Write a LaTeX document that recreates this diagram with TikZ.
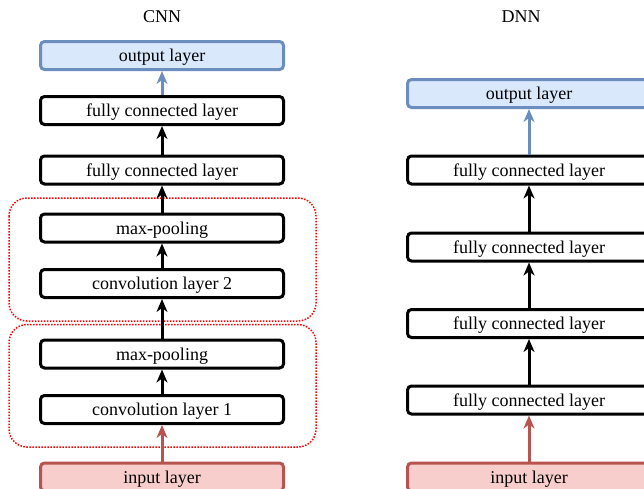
\documentclass[tikz,border=0pt]{standalone}
\usepackage{fontspec}
\setmainfont{Liberation Serif}
\usetikzlibrary{arrows.meta}
\definecolor{bluestroke}{HTML}{6C8EBF}
\definecolor{bluefill}{HTML}{DAE8FC}
\definecolor{redstroke}{HTML}{B85450}
\definecolor{redfill}{HTML}{F8CECC}
\definecolor{groupred}{HTML}{FF0000}
\begin{document}
\begin{tikzpicture}[x=1pt,y=-1pt,
  layer/.style={draw=black, line width=3pt, rounded corners=4pt, minimum width=243pt, minimum height=28pt, inner sep=0pt, text height=14pt, text depth=2pt, font=\fontsize{18}{21}\selectfont, fill=white},
  outlayer/.style={layer, draw=bluestroke, fill=bluefill},
  inlayer/.style={layer, draw=redstroke, fill=redfill},
  group/.style={draw=groupred, line width=1.5pt, dash pattern=on 1.5pt off 1.5pt, rounded corners=18pt},
  flow/.style={-{Stealth[length=13pt,width=11pt,inset=4pt]}, line width=3pt},
  title/.style={font=\fontsize{18}{21}\selectfont, inner sep=0pt}
]
\useasboundingbox (0,0) rectangle (644,488);
\fill[white] (0,0) rectangle (644,488);

% groups
\draw[group] (9,198) rectangle (316,321);
\draw[group] (9,324.5) rectangle (316,447);

% titles
\node[title] (cnn) at (162,17) {CNN};
\node[title] (dnn) at (521,17) {DNN};

% CNN column
\node[outlayer] (lout) at (162,55.5) {output layer};
\node[layer] (lfc1) at (162,110.5) {fully connected layer};
\node[layer] (lfc2) at (162,170) {fully connected layer};
\node[layer] (lmp2) at (162,228) {max-pooling};
\node[layer] (lcv2) at (162,283.5) {convolution layer 2};
\node[layer] (lmp1) at (162,354) {max-pooling};
\node[layer] (lcv1) at (162,409.5) {convolution layer 1};
\node[inlayer] (lin) at (162,477) {input layer};

\draw[flow, redstroke] (lin) -- (lcv1);
\draw[flow] (lcv1) -- (lmp1);
\draw[flow] (lmp1) -- (lcv2);
\draw[flow] (lcv2) -- (lmp2);
\draw[flow] (lmp2) -- (lfc2);
\draw[flow] (lfc2) -- (lfc1);
\draw[flow, bluestroke] (lfc1) -- (lout);

% DNN column
\node[outlayer] (rout) at (529,93.5) {output layer};
\node[layer] (rfc1) at (529,170) {fully connected layer};
\node[layer] (rfc2) at (529,247) {fully connected layer};
\node[layer] (rfc3) at (529,323.5) {fully connected layer};
\node[layer] (rfc4) at (529,400) {fully connected layer};
\node[inlayer] (rin) at (529,477) {input layer};

\draw[flow, redstroke] (rin) -- (rfc4);
\draw[flow] (rfc4) -- (rfc3);
\draw[flow] (rfc3) -- (rfc2);
\draw[flow] (rfc2) -- (rfc1);
\draw[flow, bluestroke] (rfc1) -- (rout);
\end{tikzpicture}
\end{document}
